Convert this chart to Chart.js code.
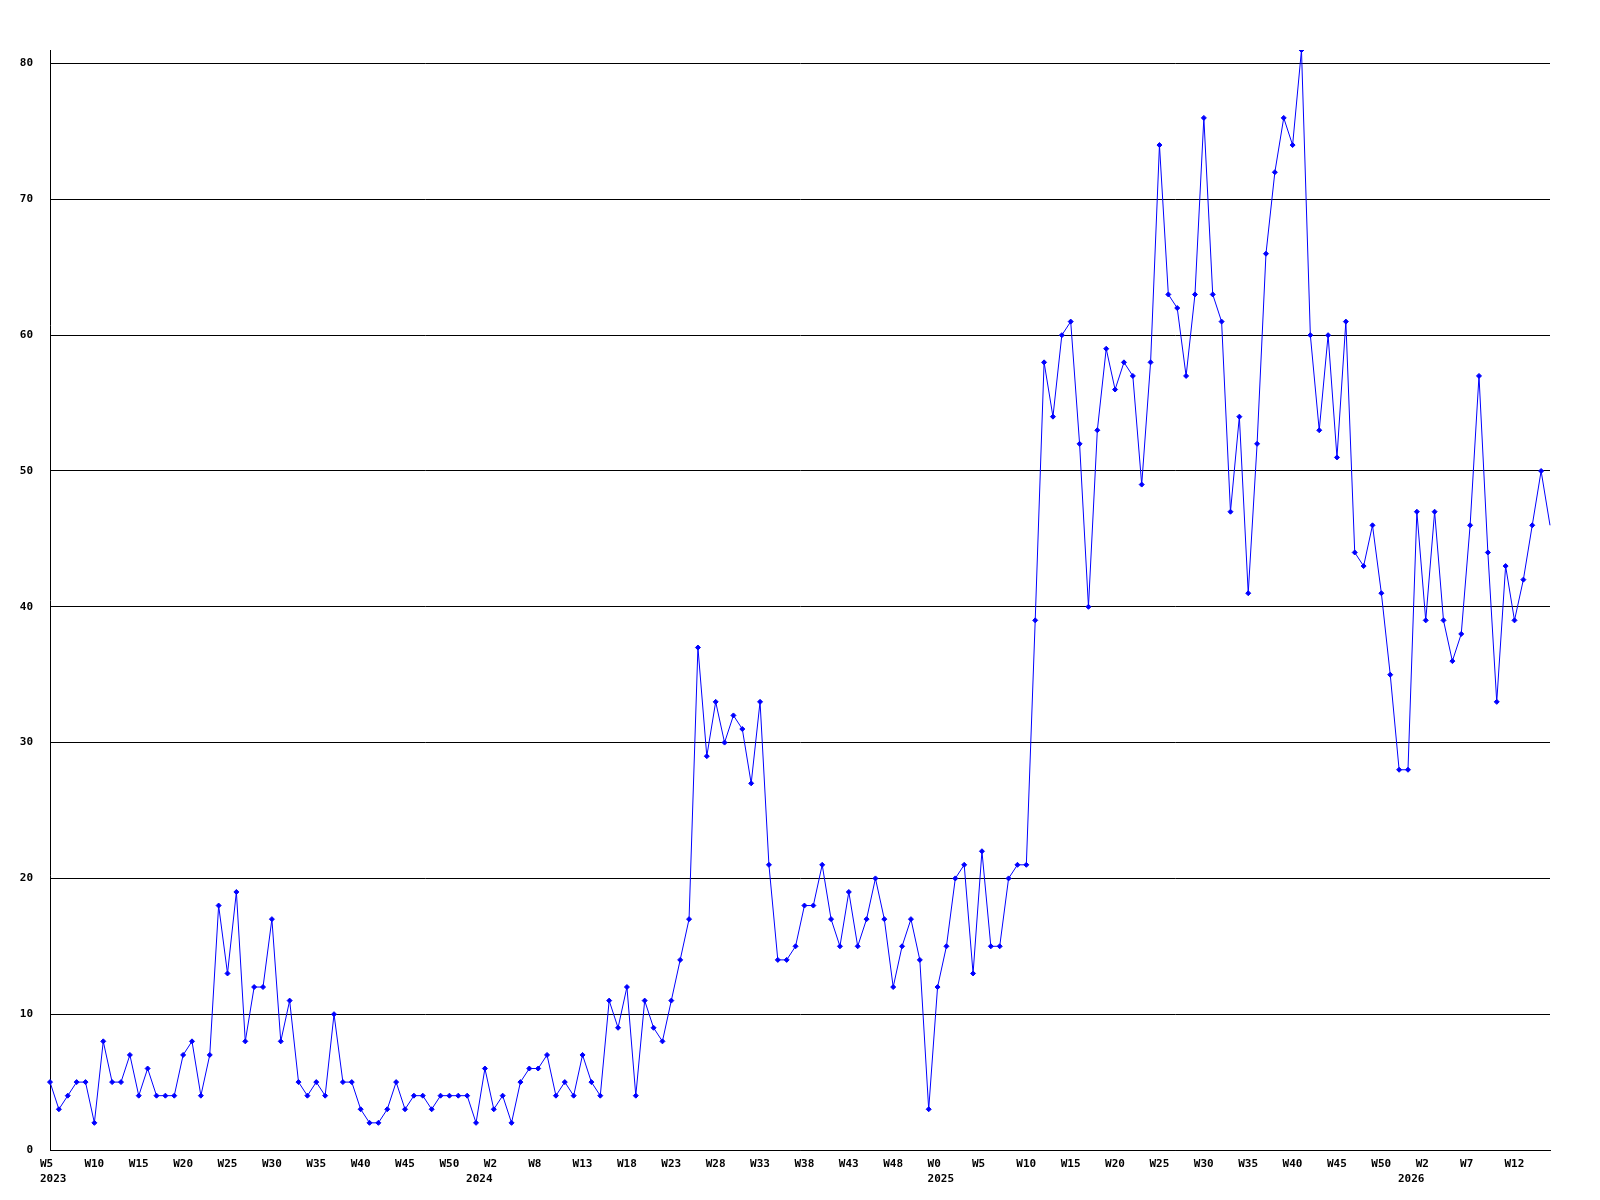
<!DOCTYPE html>
<html>
<head>
<meta charset="utf-8">
<title>Weekly count</title>
<script src="https://cdn.jsdelivr.net/npm/chart.js@4/dist/chart.umd.min.js"></script>
<style>
  body { margin: 0; background: #fff; }
  canvas { display: block; }
</style>
</head>
<body>
<canvas id="weeklyChart" width="1600" height="1200"></canvas>
<script>
// one value per week, 2023 W5 .. 2026
const counts = [
  5, 3, 4, 5, 5, 2, 8, 5, 5, 7, 4, 6, 4, 4, 4, 7, 8, 4, 7, 18,
  13, 19, 8, 12, 12, 17, 8, 11, 5, 4, 5, 4, 10, 5, 5, 3, 2, 2, 3, 5,
  3, 4, 4, 3, 4, 4, 4, 4, 2, 6, 3, 4, 2, 5, 6, 6, 7, 4, 5, 4,
  7, 5, 4, 11, 9, 12, 4, 11, 9, 8, 11, 14, 17, 37, 29, 33, 30, 32, 31, 27,
  33, 21, 14, 14, 15, 18, 18, 21, 17, 15, 19, 15, 17, 20, 17, 12, 15, 17, 14, 3,
  12, 15, 20, 21, 13, 22, 15, 15, 20, 21, 21, 39, 58, 54, 60, 61, 52, 40, 53, 59,
  56, 58, 57, 49, 58, 74, 63, 62, 57, 63, 76, 63, 61, 47, 54, 41, 52, 66, 72, 76,
  74, 81, 60, 53, 60, 51, 61, 44, 43, 46, 41, 35, 28, 28, 47, 39, 47, 39, 36, 38,
  46, 57, 44, 33, 43, 39, 42, 46, 50, 46
];

const weekTickIndex = [0, 5, 10, 15, 20, 25, 30, 35, 40, 45, 50, 55, 60, 65, 70, 75, 80,
  85, 90, 95, 100, 105, 110, 115, 120, 125, 130, 135, 140, 145, 150, 155, 160, 165];
const weekTickLabels = ['W5', 'W10', 'W15', 'W20', 'W25', 'W30', 'W35', 'W40', 'W45', 'W50',
  'W2', 'W8', 'W13', 'W18', 'W23', 'W28', 'W33', 'W38', 'W43', 'W48',
  'W0', 'W5', 'W10', 'W15', 'W20', 'W25', 'W30', 'W35', 'W40', 'W45', 'W50',
  'W2', 'W7', 'W12'];
const yearTickIndex = [0, 48, 100, 153];
const yearTickLabels = ['2023', '2024', '2025', '2026'];
const yTicks = [0, 10, 20, 30, 40, 50, 60, 70, 80];
const yMax = 81;

Chart.defaults.font.family = "'DejaVu Sans Mono', 'Liberation Mono', monospace";
Chart.defaults.font.weight = 'bold';
Chart.defaults.font.size = 11;
Chart.defaults.color = '#000';

function xLabel(i) {
  const w = weekTickIndex.indexOf(i);
  const y = yearTickIndex.indexOf(i);
  if (w < 0 && y < 0) return null;
  const week = w >= 0 ? weekTickLabels[w] : '';
  if (y < 0) return week;
  return [week, yearTickLabels[y]];
}

const ctx = document.getElementById('weeklyChart').getContext('2d');
new Chart(ctx, {
  type: 'line',
  data: {
    labels: counts.map((_, i) => i),
    datasets: [{
      data: counts,
      borderColor: '#0000ff',
      borderWidth: 1,
      tension: 0,
      fill: false,
      pointStyle: 'rectRot',
      pointRadius: c => c.dataIndex === counts.length - 1 ? 0 : 2.5,
      pointBackgroundColor: '#0000ff',
      pointBorderColor: '#0000ff',
      pointBorderWidth: 1
    }]
  },
  options: {
    responsive: false,
    animation: false,
    devicePixelRatio: 1,
    layout: { padding: { top: 50, right: 50, left: 0, bottom: 0 } },
    plugins: {
      legend: { display: false },
      tooltip: { enabled: false }
    },
    scales: {
      x: {
        type: 'category',
        grid: { display: false },
        border: { display: true, color: '#000', width: 1 },
        ticks: {
          autoSkip: false,
          maxRotation: 0,
          minRotation: 0,
          align: 'start',
          labelOffset: -10,
          padding: -1,
          font: { lineHeight: '15px' },
          callback: (value, index) => xLabel(index)
        },
        afterFit: s => { s.height = 50; }
      },
      y: {
        min: 0,
        max: yMax,
        grid: { color: '#000', lineWidth: 1, drawTicks: false },
        border: { display: true, color: '#000', width: 1 },
        ticks: { padding: 17 },
        afterBuildTicks: s => { s.ticks = yTicks.map(v => ({ value: v })); },
        afterFit: s => { s.width = 50; }
      }
    }
  }
});
</script>
</body>
</html>
